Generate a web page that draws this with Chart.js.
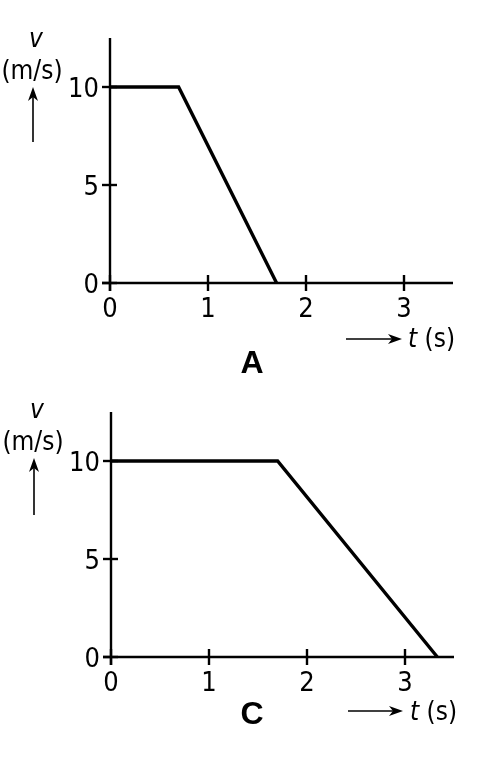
<!DOCTYPE html>
<html>
<head>
<meta charset="utf-8">
<script src="https://cdn.jsdelivr.net/npm/chart.js@4"></script>
<style>
    body { margin: 0; background: #fff; }
    #page { position: relative; width: 481px; height: 773px; overflow: hidden; }
    canvas { position: absolute; left: 0; }
    .lbl { position: absolute; font-family: "DejaVu Sans Condensed", "DejaVu Sans", sans-serif; font-size: 26px; line-height: 26px; color: #000; white-space: nowrap; }
    .c { text-align: center; width: 80px; }
    .big { position: absolute; font-family: "Liberation Sans", Arial, sans-serif; font-weight: bold; font-size: 32px; line-height: 32px; width: 60px; text-align: center; }
    i { font-style: italic; }
</style>
</head>
<body>
<div id="page">
    <canvas id="chartA" width="481" height="386" style="top:0"></canvas>
    <canvas id="chartC" width="481" height="387" style="top:386px"></canvas>

    <div class="lbl c" style="left:-4px; top:25px"><i>v</i></div>
    <div class="lbl c" style="left:-8px; top:57px">(m/s)</div>
    <div class="lbl" style="left:408px; top:325px"><i>t</i> (s)</div>
    <div class="big" style="left:222px; top:346px">A</div>

    <div class="lbl c" style="left:-3px; top:396px"><i>v</i></div>
    <div class="lbl c" style="left:-7px; top:428px">(m/s)</div>
    <div class="lbl" style="left:410px; top:698px"><i>t</i> (s)</div>
    <div class="big" style="left:222px; top:697px">C</div>
</div>

<script>
// 数据：两个 v-t 图
var timeA = [0, 0.7, 1.7];
var speedA = [10, 10, 0];
var timeC = [0, 1.7, 3.33];
var speedC = [10, 10, 0];

var timeTicks = [0, 1, 2, 3];
var speedTicks = [0, 5, 10];
var timeMax = 3.5;
var speedMax = 12.5;

function toPoints(xs, ys) {
    return xs.map((x, i) => ({ x: x, y: ys[i] }));
}

function arrow(ctx, x1, y1, x2, y2) {
    var ang = Math.atan2(y2 - y1, x2 - x1);
    var len = 14, half = 5;
    ctx.beginPath();
    ctx.moveTo(x1, y1);
    ctx.lineTo(x2 - Math.cos(ang) * 6, y2 - Math.sin(ang) * 6);
    ctx.stroke();
    ctx.beginPath();
    ctx.moveTo(x2, y2);
    ctx.lineTo(x2 - Math.cos(ang) * len + Math.sin(ang) * half, y2 - Math.sin(ang) * len - Math.cos(ang) * half);
    ctx.lineTo(x2 - Math.cos(ang) * (len - 4), y2 - Math.sin(ang) * (len - 4));
    ctx.lineTo(x2 - Math.cos(ang) * len - Math.sin(ang) * half, y2 - Math.sin(ang) * len + Math.cos(ang) * half);
    ctx.closePath();
    ctx.fill();
}

// 画坐标轴、刻度、刻度值和箭头
function axesPlugin(arrows) {
    return {
        id: 'axes',
        beforeDatasetsDraw(chart) {
            var ctx = chart.ctx;
            var xs = chart.scales.x, ys = chart.scales.y;
            var x0 = xs.getPixelForValue(0), y0 = ys.getPixelForValue(0);
            ctx.save();
            ctx.strokeStyle = '#000';
            ctx.fillStyle = '#000';
            ctx.lineWidth = 2.4;
            ctx.lineCap = 'butt';

            ctx.beginPath();
            ctx.moveTo(x0, ys.getPixelForValue(speedMax));
            ctx.lineTo(x0, y0 + 8);
            ctx.moveTo(x0 - 8, y0);
            ctx.lineTo(xs.getPixelForValue(timeMax), y0);
            ctx.stroke();

            ctx.font = '27px "DejaVu Sans Condensed", "DejaVu Sans", sans-serif';
            ctx.textAlign = 'center';
            ctx.textBaseline = 'middle';
            timeTicks.forEach(t => {
                var px = xs.getPixelForValue(t);
                ctx.beginPath();
                ctx.moveTo(px, y0 - 8);
                ctx.lineTo(px, y0 + 8);
                ctx.stroke();
                ctx.fillText(String(t), px, y0 + 27);
            });
            ctx.textAlign = 'right';
            speedTicks.forEach(v => {
                var py = ys.getPixelForValue(v);
                ctx.beginPath();
                ctx.moveTo(x0 - 8, py);
                ctx.lineTo(x0 + 7, py);
                ctx.stroke();
                ctx.fillText(String(v), x0 - 11, py + 3);
            });

            ctx.lineWidth = 1.6;
            arrows.forEach(a => arrow(ctx, a[0], a[1], a[2], a[3]));
            ctx.restore();
        }
    };
}

function makeChart(id, xs, ys, pad, arrows) {
    var ctx = document.getElementById(id).getContext('2d');
    return new Chart(ctx, {
        type: 'scatter',
        data: {
            datasets: [{
                data: toPoints(xs, ys),
                showLine: true,
                borderColor: '#000',
                borderWidth: 3.4,
                pointRadius: 0,
                tension: 0,
                clip: false
            }]
        },
        options: {
            responsive: false,
            animation: false,
            devicePixelRatio: 1,
            layout: { padding: pad },
            plugins: { legend: { display: false }, tooltip: { enabled: false } },
            scales: {
                x: { type: 'linear', min: 0, max: timeMax, display: false },
                y: { type: 'linear', min: 0, max: speedMax, display: false }
            }
        },
        plugins: [axesPlugin(arrows)]
    });
}

makeChart('chartA', timeA, speedA,
    { left: 110, right: 28, top: 38, bottom: 103 },
    [[33, 142, 33, 87], [346, 339, 402, 339]]);

makeChart('chartC', timeC, speedC,
    { left: 111, right: 27, top: 26, bottom: 116 },
    [[34, 129, 34, 72], [348, 325, 403, 325]]);
</script>
</body>
</html>
